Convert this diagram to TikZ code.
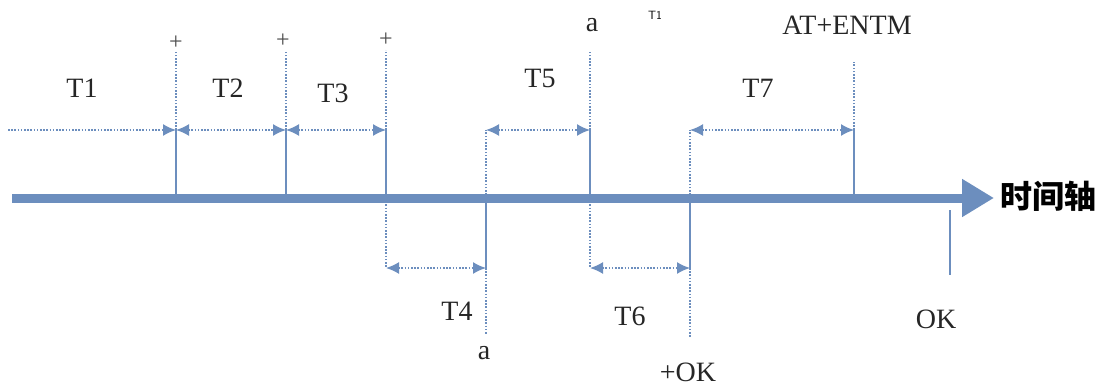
\documentclass[tikz,border=0pt]{standalone}
\usepackage{fontspec}
\setmainfont{Liberation Serif}
\newfontfamily\cjk{Noto Sans CJK SC}
\usepackage{tikz}
\usetikzlibrary{arrows.meta}
\definecolor{axisblue}{RGB}{108,142,190}
\tikzstyle{lbl}=[inner sep=0pt, font=\fontsize{28}{30}\selectfont, text=black!85]
\tikzstyle{plus}=[inner sep=0pt, font=\fontsize{24}{26}\selectfont, text=black!70]
\tikzstyle{tick}=[draw=axisblue, line width=2pt]
\tikzstyle{guide}=[draw=axisblue, line width=1.6pt, dash pattern=on 1.6pt off 1.6pt]
\tikzstyle{span}=[color=axisblue, line width=1.6pt, dash pattern=on 1.6pt off 1.6pt, >={Latex[length=13pt, width=12pt]}]

\begin{document}
\begin{tikzpicture}[x=1pt, y=-1pt]
		   \path[use as bounding box] (0,0) rectangle (1105,385);
		   \begin{scope}
			   % time axis
			   \coordinate (s) at (12, 198);
			   \coordinate (e) at (994, 198);
			   \draw[axisblue, line width=9pt, -{Triangle[length=32pt, width=36pt]}] (s) -- (e);
			   \node (axis) at (1048, 196)[inner sep=0pt, font=\cjk\bfseries\fontsize{32}{34}\selectfont] {时间轴};
		   \end{scope}
		   \begin{scope}
			   % marks on the axis
			   \coordinate (a0) at (8, 130);
			   \coordinate (a1) at (176, 198);  \coordinate (b1) at (176, 130);  \coordinate (c1) at (176, 52);
			   \coordinate (a2) at (286, 198);  \coordinate (b2) at (286, 130);  \coordinate (c2) at (286, 52);
			   \coordinate (a3) at (386, 198);  \coordinate (b3) at (386, 130);  \coordinate (c3) at (386, 50);  \coordinate (d3) at (386, 268);
			   \coordinate (a4) at (486, 198);  \coordinate (b4) at (486, 130);  \coordinate (d4) at (486, 268);  \coordinate (f4) at (486, 334);
			   \coordinate (a5) at (590, 198);  \coordinate (b5) at (590, 130);  \coordinate (c5) at (590, 52);  \coordinate (d5) at (590, 268);
			   \coordinate (a6) at (690, 198);  \coordinate (b6) at (690, 130);  \coordinate (d6) at (690, 268);  \coordinate (f6) at (690, 338);
			   \coordinate (a7) at (854, 198);  \coordinate (b7) at (854, 130);  \coordinate (c7) at (854, 62);
			   \coordinate (a8) at (950, 210);  \coordinate (d8) at (950, 275);
		   \end{scope}
		   \begin{scope}
			   \path (a1) edge [tick] (b1);
			   \path (a2) edge [tick] (b2);
			   \path (a3) edge [tick] (b3);
			   \path (a4) edge [tick] (d4);
			   \path (a5) edge [tick] (b5);
			   \path (a6) edge [tick] (d6);
			   \path (a7) edge [tick] (b7);
			   \path (a8) edge [tick] (d8);
			   \path (b1) edge [guide] (c1);
			   \path (b2) edge [guide] (c2);
			   \path (b3) edge [guide] (c3);
			   \path (a3) edge [guide] (d3);
			   \path (a4) edge [guide] (b4);
			   \path (d4) edge [guide] (f4);
			   \path (b5) edge [guide] (c5);
			   \path (a5) edge [guide] (d5);
			   \path (a6) edge [guide] (b6);
			   \path (d6) edge [guide] (f6);
			   \path (b7) edge [guide] (c7);
		   \end{scope}
		   \begin{scope}
			   \path (a0) edge [span, ->] (b1);
			   \path (b1) edge [span, <->] (b2);
			   \path (b2) edge [span, <->] (b3);
			   \path (d3) edge [span, <->] (d4);
			   \path (b4) edge [span, <->] (b5);
			   \path (d5) edge [span, <->] (d6);
			   \path (b6) edge [span, <->] (b7);
		   \end{scope}
		   \begin{scope}
			   \node (t1) at (82, 88)[lbl] {T1};
			   \node (t2) at (228, 88)[lbl] {T2};
			   \node (t3) at (333, 93)[lbl] {T3};
			   \node (t4) at (457, 311)[lbl] {T4};
			   \node (t5) at (540, 78)[lbl] {T5};
			   \node (t6) at (630, 316)[lbl] {T6};
			   \node (t7) at (758, 88)[lbl] {T7};
			   \node (p1) at (176, 43)[plus] {+};
			   \node (p2) at (283, 41)[plus] {+};
			   \node (p3) at (386, 40)[plus] {+};
			   \node (qa) at (592, 25)[lbl] {a};
			   \node (qb) at (484, 353)[lbl] {a};
			   \node (tt) at (655, 15)[inner sep=0pt, font=\sffamily\fontsize{12}{13}\selectfont] {T1};
			   \node (en) at (847, 25)[lbl] {AT+ENTM};
			   \node (ok1) at (688, 372)[lbl] {+OK};
			   \node (ok2) at (936, 319)[lbl] {OK};
		   \end{scope}
	   \end{tikzpicture}
\end{document}
